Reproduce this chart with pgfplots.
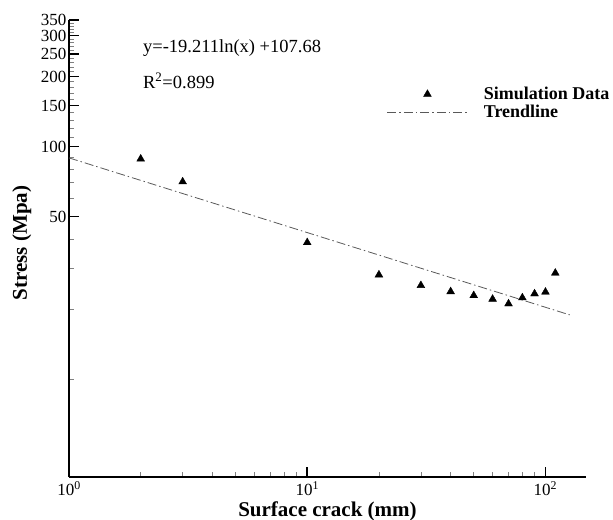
\documentclass[border=0pt]{standalone}
\usepackage{fontspec}
\setmainfont{Liberation Serif}
\usepackage{pgfplots}
\pgfplotsset{compat=1.18}
\begin{document}
\begin{tikzpicture}
\begin{axis}[name=ax, scale only axis, width=517pt, height=457pt,
  xmode=log, ymode=log, xmin=1, xmax=148, ymin=3.8, ymax=350,
  axis lines=left, axis line style={line width=1.5pt, -},
  xtick={1,10,100},
  xticklabels={10\textsuperscript{0},10\textsuperscript{1},10\textsuperscript{2}},
  minor xtick={2,3,4,5,6,7,8,9,20,30,40,50,60,70,80,90},
  ytick={50,100,150,200,250,300,350},
  yticklabels={50,100,150,200,250,300,350},
  minor ytick={10,20,30,40,60,70,80,90,110,120,130,140,160,170,180,190,210,220,230,240,260,270,280,290,310,320,330,340},
  major tick length=10pt, minor tick length=5pt,
  every major tick/.style={black, line width=1.8pt},
  every minor tick/.style={gray, line width=0.6pt},
  tick align=inside,
  ticklabel style={font=\fontsize{17}{17}\selectfont, inner ysep=0pt},
  xticklabel style={yshift=-4pt},
  yticklabel style={xshift=1pt},
  xlabel={Surface crack (mm)}, ylabel={Stress (Mpa)},
  label style={font=\fontsize{21}{21}\selectfont\bfseries},
  xlabel style={at={(axis description cs:0.5,-0.076)}, anchor=center},
  ylabel style={at={(axis description cs:-0.091,0.512)}, anchor=center},
  legend cell align=left,
  legend style={draw=none, fill=none, at={(0.609,0.862)}, anchor=north west,
    font=\fontsize{18}{18}\selectfont\bfseries, row sep=0pt,
    /tikz/every odd column/.append style={column sep=14pt}},
  legend image code/.code={\draw[mark repeat=2,mark phase=2,#1] plot coordinates {(0pt,0pt)(40pt,0pt)(80pt,0pt)};},
]
\addplot[only marks, mark=triangle*, mark size=4.5pt, black] coordinates {
(2,88.5) (3,70.6) (10,38.7) (20,28.1) (30,25.3) (40,23.8) (50,22.9) (60,22.1) (70,21.1) (80,22.4) (90,23.3) (100,23.7) (110,28.6)};
\addlegendentry{Simulation Data}
\addplot[gray!70!black, line width=0.8pt, dash pattern=on 9pt off 3pt on 1.5pt off 3pt] coordinates {(1,89.4) (126.5,18.9)};
\addlegendentry{Trendline}
\node[anchor=base west, inner sep=0pt, font=\fontsize{18.5}{18.5}\selectfont] at (axis description cs:0.143,0.928) {y=-19.211ln(x) +107.68};
\node[anchor=base west, inner sep=0pt, font=\fontsize{18.5}{18.5}\selectfont] at (axis description cs:0.143,0.851) {R\textsuperscript{2}=0.899};
\end{axis}
\pgfresetboundingbox
\path ([xshift=-69pt,yshift=-43pt]ax.south west) rectangle ([xshift=27pt,yshift=20pt]ax.north east);
\end{tikzpicture}
\end{document}
